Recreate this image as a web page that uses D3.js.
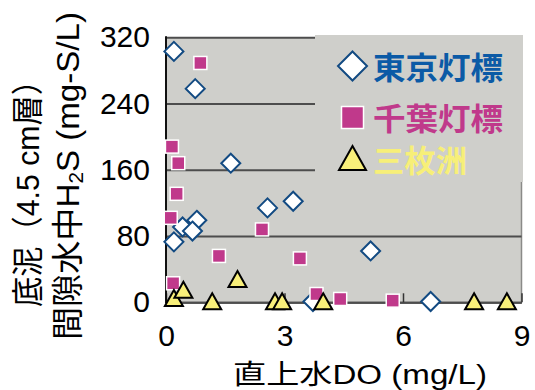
<!DOCTYPE html>
<html><head><meta charset="utf-8">
<script src="https://cdn.jsdelivr.net/npm/d3@7"></script>
<style>
html,body{margin:0;padding:0;background:#fff;}
svg{display:block;}
text{font-family:"Liberation Sans","Noto Sans CJK JP",Arial,sans-serif;}
</style></head>
<body><svg id="c" width="535" height="390"></svg>
<script>
// ---- data ----
const seriesNames = ["東京灯標", "千葉灯標", "三枚洲"];
const tokyoDO  = [0.20, 0.74, 1.64, 2.57, 3.22, 0.78, 0.42, 0.67, 0.20, 5.18, 6.70, 3.72];
const tokyoH2S = [303, 258, 168, 114, 122, 99, 91, 86, 73, 62, 1, 1];
const chibaDO  = [0.87, 0.15, 0.31, 0.27, 0.12, 2.43, 1.34, 3.39, 0.18, 3.81, 4.41, 5.74];
const chibaH2S = [289, 188, 168, 131, 102, 88, 56, 53, 23, 10, 4, 2];
const sanDO    = [0.20, 0.44, 1.17, 1.81, 2.76, 2.94, 3.98, 7.80, 8.63];
const sanH2S   = [4, 14, 0, 27, 0, 0, 0, 0, 0];
const xTicks = [0, 3, 6, 9];
const yTicks = [0, 80, 160, 240, 320];

const svg = d3.select("#c");
const L = 166, R = 521.5, T = 37.3, B = 302.3;
const x = d3.scaleLinear().domain([0, 9]).range([L, R]);
const y = d3.scaleLinear().domain([0, 320]).range([B, T]);

// plot background
svg.append("rect").attr("x", L).attr("y", T).attr("width", R - L).attr("height", B - T).attr("fill", "#cfcfcb");
// right border
svg.append("line").attr("x1", R).attr("x2", R).attr("y1", T).attr("y2", B).attr("stroke", "#8a8a88").attr("stroke-width", 1.5);

// y axis with gridlines
const gy = svg.append("g").attr("transform", `translate(${L},0)`)
  .call(d3.axisLeft(y).tickValues(yTicks).tickSizeInner(-(R - L)).tickSizeOuter(0).tickPadding(16));
gy.select(".domain").remove();
gy.selectAll(".tick line").attr("stroke", "#4d4d4d").attr("stroke-width", 2);
gy.selectAll(".tick text").attr("font-size", 30).attr("fill", "#000")
  .attr("font-family", "Liberation Sans, Arial, sans-serif");

// x axis
const gx = svg.append("g").attr("transform", `translate(0,${B})`)
  .call(d3.axisBottom(x).tickValues(xTicks).tickSizeInner(-9).tickSizeOuter(0).tickPadding(22));
gx.select(".domain").attr("stroke", "#4d4d4d").attr("stroke-width", 2);
gx.selectAll(".tick line").attr("stroke", "#333").attr("stroke-width", 1.5);
gx.selectAll(".tick text").attr("font-size", 30).attr("fill", "#000")
  .attr("font-family", "Liberation Sans, Arial, sans-serif");

// left axis line
svg.append("line").attr("x1", L).attr("x2", L).attr("y1", T - 1).attr("y2", B + 1).attr("stroke", "#111").attr("stroke-width", 2);

// marker path generators (centered at 0,0)
const diamondPath = s => `M0,${-s/2}L${s/2},0L0,${s/2}L${-s/2},0Z`;
const trianglePath = (w, h) => `M0,${-h/2}L${w/2},${h/2}L${-w/2},${h/2}Z`;

// legend box
svg.append("rect").attr("x", 315).attr("y", 35).attr("width", 208).attr("height", 147).attr("fill", "#cfcfcb");

// series markers
const tokyo = tokyoDO.map((d, i) => ({ x: d, y: tokyoH2S[i] }));
const chiba = chibaDO.map((d, i) => ({ x: d, y: chibaH2S[i] }));
const san = sanDO.map((d, i) => ({ x: d, y: sanH2S[i] }));

svg.append("g").selectAll("path").data(tokyo).join("path")
  .attr("d", diamondPath(19)).attr("transform", d => `translate(${x(d.x)},${y(d.y)})`)
  .attr("fill", "#fff").attr("stroke", "#124a82").attr("stroke-width", 2);

svg.append("g").selectAll("rect").data(chiba).join("rect")
  .attr("x", d => x(d.x) - 6.5).attr("y", d => y(d.y) - 6.5).attr("width", 13).attr("height", 13)
  .attr("fill", "#c0398b").attr("stroke", "#fff").attr("stroke-width", 1.5);

svg.append("g").selectAll("path").data(san).join("path")
  .attr("d", trianglePath(18, 16)).attr("transform", d => `translate(${x(d.x)},${y(d.y) - 1})`)
  .attr("fill", "#f8ef7a").attr("stroke", "#000").attr("stroke-width", 2).attr("stroke-linejoin", "miter");

// legend
const legColors = ["#0b5aa6", "#c0398b", "#f7ef78"];
const legY = [66, 117.5, 159];
const legW = [130, 130, 94];
const lg = svg.append("g");
lg.append("path").attr("d", diamondPath(29)).attr("transform", `translate(352.5,${legY[0]})`)
  .attr("fill", "#fff").attr("stroke", "#124a82").attr("stroke-width", 2);
lg.append("rect").attr("x", 352.5 - 11).attr("y", legY[1] - 11).attr("width", 22).attr("height", 22)
  .attr("fill", "#c0398b").attr("stroke", "#fff").attr("stroke-width", 1.5);
lg.append("path").attr("d", trianglePath(27, 24)).attr("transform", `translate(352.5,${legY[2] - 1})`)
  .attr("fill", "#f8ef7a").attr("stroke", "#000").attr("stroke-width", 2);
seriesNames.forEach((n, i) => {
  lg.append("text").attr("x", 373).attr("y", legY[i] + 2).attr("dominant-baseline", "central")
    .attr("font-family", "Noto Sans CJK JP, sans-serif").attr("font-weight", "bold").attr("font-size", 31)
    .attr("fill", legColors[i]).attr("textLength", legW[i]).attr("lengthAdjust", "spacingAndGlyphs").text(n);
});

// x title
svg.append("text").attr("x", 233).attr("y", 384).attr("font-size", 27).attr("fill", "#000")
  .attr("textLength", 254).attr("lengthAdjust", "spacingAndGlyphs").text("直上水DO (mg/L)");

// y title (two lines, rotated)
svg.append("text").attr("transform", "translate(28,186) rotate(-90)").attr("text-anchor", "middle")
  .attr("dominant-baseline", "central").attr("font-size", 32).attr("fill", "#000")
  .attr("textLength", 242).attr("lengthAdjust", "spacingAndGlyphs").text("底泥（4.5 cm層）");
const t2 = svg.append("text").attr("transform", "translate(68,176) rotate(-90)").attr("text-anchor", "middle")
  .attr("dominant-baseline", "central").attr("font-size", 32).attr("fill", "#000")
  .attr("textLength", 328).attr("lengthAdjust", "spacingAndGlyphs");
t2.append("tspan").text("間隙水中H");
t2.append("tspan").attr("font-size", 20).attr("dy", 8).text("2");
t2.append("tspan").attr("dy", -8).text("S (mg-S/L)");
</script></body></html>
